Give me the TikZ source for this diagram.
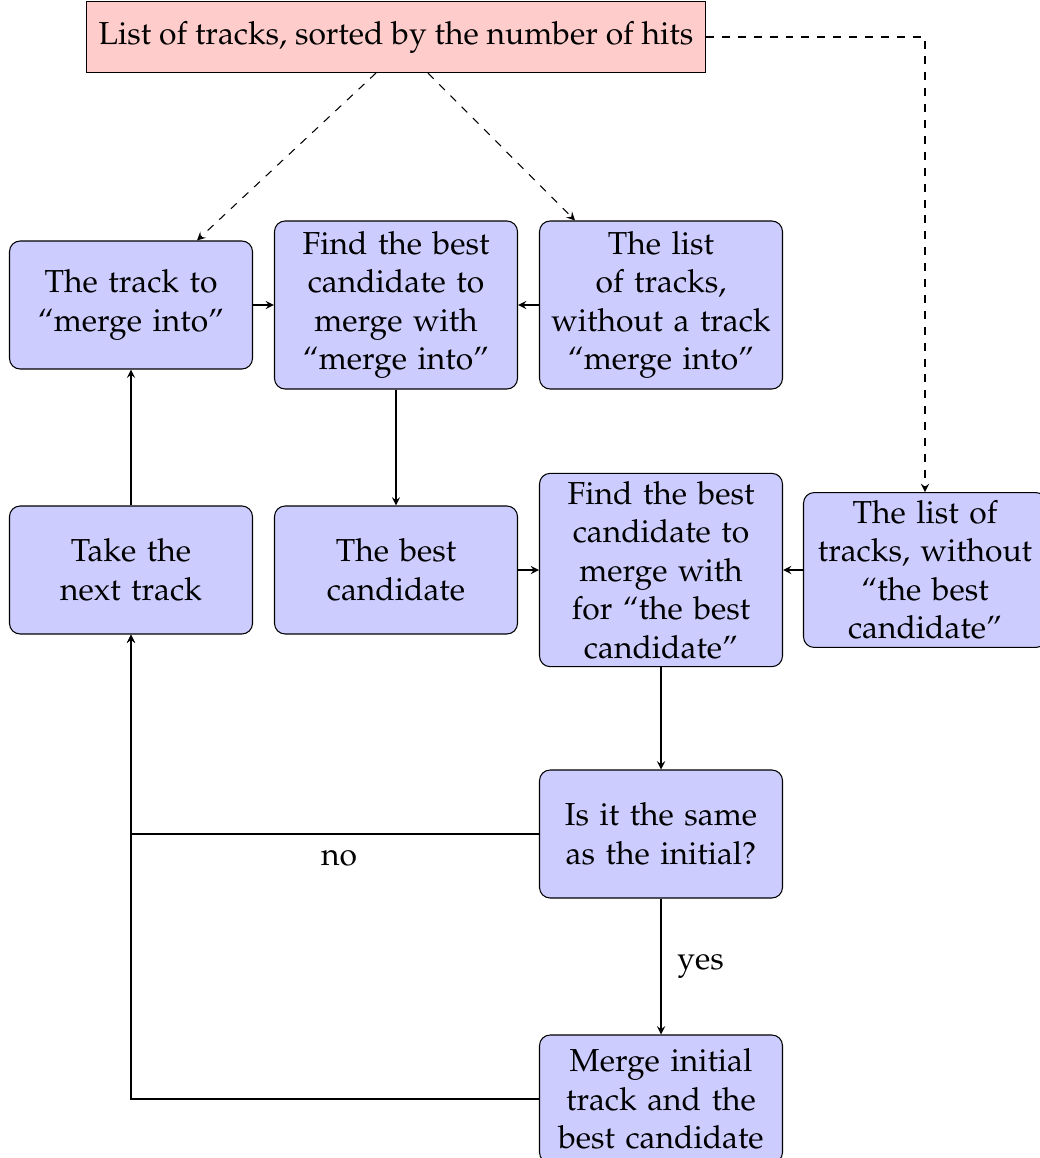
\documentclass[tikz,border=0pt,12pt]{standalone}
\usepackage[T1]{fontenc}
\usepackage{mathpazo}
\usepackage{xcolor}
\usepackage{tikz}
\definecolor{boxblue}{HTML}{CCCCFF}
\definecolor{boxpink}{HTML}{FFCCCC}

\begin{document}
\begin{tikzpicture}[x=0.3774pt,y=-0.3774pt,>=stealth,
    block/.style={draw,rounded corners=4pt,fill=boxblue,align=center,text width=86pt,inner xsep=2.5pt,inner ysep=3pt,minimum width=91.7pt,minimum height=48.3pt},
    link/.style={->},
    hint/.style={->,dashed}]
    \useasboundingbox (0,0) rectangle (1039,1158);
    \node[draw,fill=boxpink,minimum width=233.6pt,minimum height=26.8pt] (list) at (396,37) {List of tracks, sorted by the number of hits};
    \node[block] (into) at (131,305) {The track to\\``merge into''};
    \node[block,minimum height=63.4pt] (find) at (396,305) {Find the best\\candidate to\\merge with\\``merge into''};
    \node[block,minimum height=63.4pt] (rest) at (661,305) {The list\\of tracks,\\without a track\\``merge into''};
    \node[block] (next) at (131,570) {Take the\\next track};
    \node[block] (best) at (396,570) {The best\\candidate};
    \node[block] (back) at (661,570) {Find the best\\candidate to\\merge with\\for ``the best\\candidate''};
    \node[block] (other) at (925,570) {The list of\\tracks, without\\``the best\\candidate''};
    \node[block] (same) at (661,834) {Is it the same\\as the initial?};
    \node[block] (merge) at (661,1099) {Merge initial\\track and the\\best candidate};
    % dashed hints from the sorted list
    \draw[hint] (list.south -| 376,0) -- (into.north -| 197,0);
    \draw[hint] (list.south -| 428,0) -- (rest.north -| 575,0);
    \draw[hint] (list.east) -| (other.north);
    % main loop
    \draw[link] (into) -- (find);
    \draw[link] (rest) -- (find);
    \draw[link] (find) -- (best);
    \draw[link] (best) -- (back);
    \draw[link] (other) -- (back);
    \draw[link] (back) -- (same);
    \draw[link] (next) -- (into);
    \draw[link] (same) -- node[right=2pt]{yes} (merge);
    \draw[link] (same.west) -- node[below=2pt,pos=0.49]{no} (same.west -| next) -- (next.south);
    \draw[link] (merge.west) -| (next.south);
\end{tikzpicture}
\end{document}
